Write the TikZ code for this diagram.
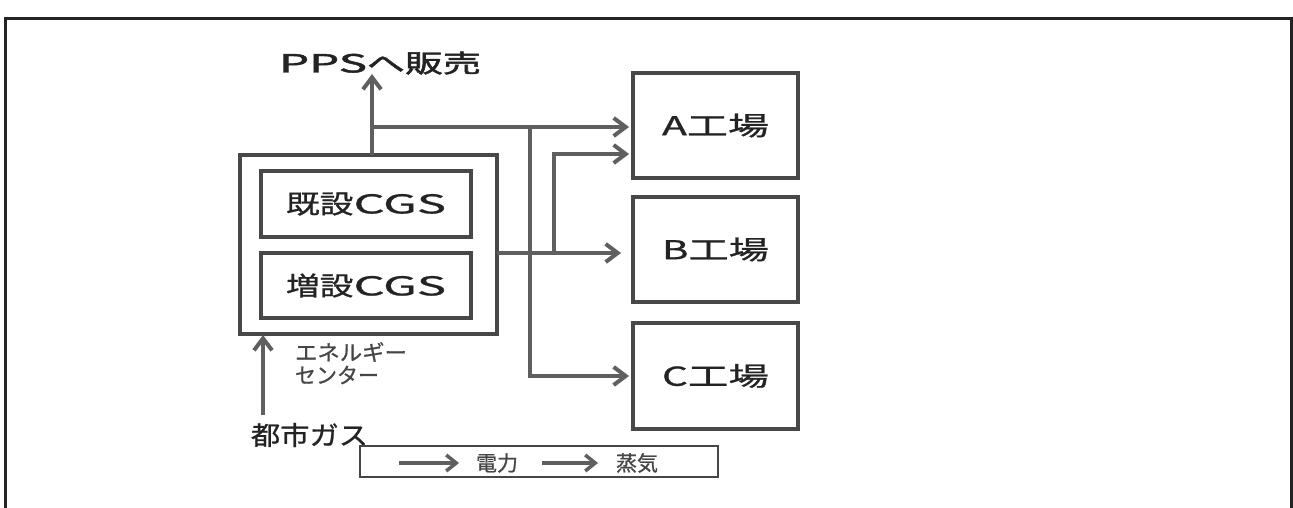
\documentclass[tikz,border=0pt]{standalone}
\usepackage{fontspec}
\usepackage{graphicx}
\newfontfamily\jpfont[FakeBold=0.8]{Noto Sans CJK JP}
\newfontfamily\jpbold[FakeBold=1.6]{Noto Sans CJK JP}
\usetikzlibrary{arrows.meta}
\definecolor{linegray}{RGB}{95,95,95}
\definecolor{boxgray}{RGB}{72,72,72}
\definecolor{framegray}{RGB}{35,35,35}
\definecolor{txtgray}{RGB}{35,35,35}
\definecolor{leggray}{RGB}{70,70,70}
\newcommand\hstretch[2]{\resizebox{#1}{\height}{#2}}
\newcommand\latw[2]{\scalebox{#1}[1]{#2}}
\begin{document}
\begin{tikzpicture}[x=1pt,y=-1pt,
  every node/.style={text=txtgray, inner sep=0pt, outer sep=0pt},
  box/.style={draw=boxgray, line width=3.5pt, rectangle},
  lbl/.style={font={\jpfont\fontsize{26}{30}\selectfont}},
  small/.style={font={\jpfont\fontsize{21.5}{24}\selectfont}, text=leggray},
  legtxt/.style={font={\jpfont\fontsize{21}{24}\selectfont}, text=leggray},
  flow/.style={draw=linegray, line width=4pt, -{Straight Barb[length=12pt,width=18pt]}},
  legflow/.style={draw=linegray, line width=3.5pt, -{Straight Barb[length=10pt,width=16pt]}}]
\useasboundingbox (0,0) rectangle (1293,508);
\fill[white] (0,0) rectangle (1293,508);
% outer frame
\draw[draw=framegray, line width=3pt] (5.5,520) -- (5.5,18.5) -- (1291,18.5) -- (1291,520);

% energy centre and generators
\node[box, minimum width=257pt, minimum height=179pt] (ec) at (368.5,244.5) {};
\node[box, lbl, minimum width=210pt, minimum height=66pt] (cgs1) at (366,204)
  {\raisebox{-3pt}{\hstretch{160pt}{既設\latw{1.45}{CGS}}}};
\node[box, lbl, minimum width=210pt, minimum height=65pt] (cgs2) at (366,285.5)
  {\raisebox{-2pt}{\hstretch{160pt}{増設\latw{1.45}{CGS}}}};

% factories
\node[box, lbl, minimum width=165pt, minimum height=105pt] (A) at (715.5,125.5) {\raisebox{-2pt}{\hstretch{107pt}{A工場}}};
\node[box, lbl, minimum width=165pt, minimum height=105pt] (B) at (715.5,249.5) {\raisebox{-3pt}{\hstretch{107pt}{B工場}}};
\node[box, lbl, minimum width=165pt, minimum height=106pt] (C) at (715.5,376) {\raisebox{-4pt}{\hstretch{107pt}{C工場}}};

% labels
\node[font={\jpbold\fontsize{25}{28}\selectfont}] (pps) at (380,63) {\hstretch{202pt}{\latw{1.25}{PPS}へ販売}};
\node[lbl] (gas) at (309.5,435) {\hstretch{117pt}{都市ガス}};
\node[small, anchor=west] (ect1) at (295,352) {\hstretch{112pt}{エネルギー}};
\node[small, anchor=west] (ect2) at (295,375) {\hstretch{84pt}{センター}};

% connectors
\coordinate (ppsbase) at ([xshift=3.5pt]ec.north);
\coordinate (ppsin) at (372,74);
\draw[flow] (ppsbase) -- (ppsin);
\coordinate (j1) at (372,127);
\draw[flow, shorten >=4pt] (j1) -- (j1 -| A.west);
\coordinate (j2) at (530,127);
\draw[flow, shorten >=4pt] (j2) |- (C.west);
\coordinate (s0) at ([yshift=-8.5pt]ec.east);
\draw[flow] (s0) -- ([xshift=-12pt]B.west |- s0);
\coordinate (j3) at (554,253);
\draw[flow, shorten >=4pt] (j3) |- ([yshift=-28.5pt]A.west);
\coordinate (g0) at (263,415);
\draw[flow, shorten >=1pt] (g0) -- (g0 |- ec.south);

% legend
\node[draw=leggray, line width=1.5pt, minimum width=358pt, minimum height=31pt] (leg) at (539,461.5) {};
\node[legtxt] (lp) at (497,463) {\hstretch{42pt}{電力}};
\node[legtxt] (ls) at (637,463) {\hstretch{42pt}{蒸気}};
\draw[legflow] ([xshift=-77pt]lp.west) -- ([xshift=-17pt]lp.west);
\draw[legflow] ([xshift=24pt]lp.east) -- ([xshift=-18pt]ls.west);
\end{tikzpicture}
\end{document}
